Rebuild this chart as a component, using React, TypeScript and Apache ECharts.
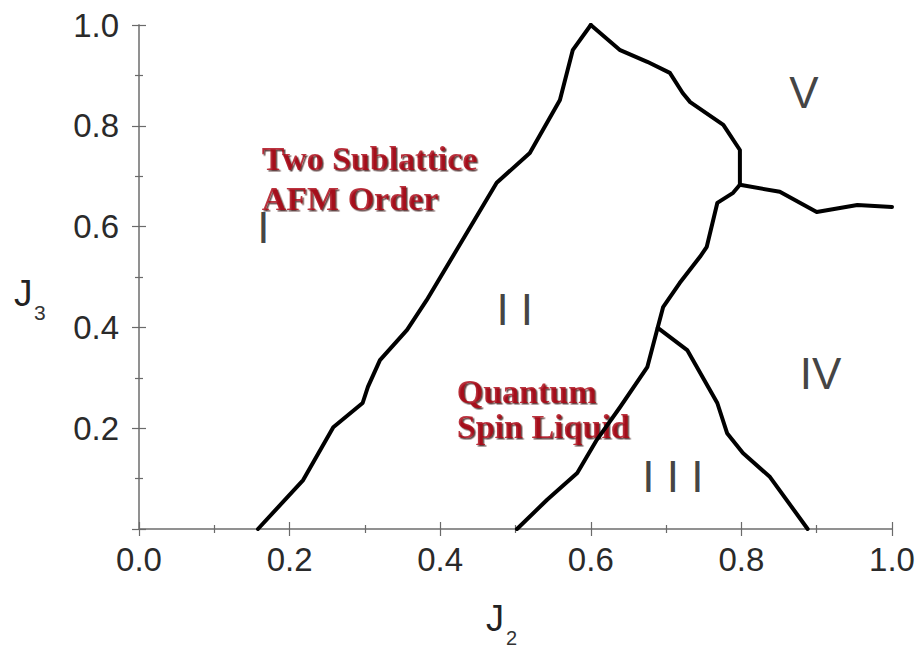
import React, { useEffect, useRef } from "react";
import * as echarts from "echarts";

// Phase boundaries, [J2, J3]
const boundaryI_II: number[][] = [
  [0.158, 0], [0.218, 0.097], [0.258, 0.202], [0.297, 0.25], [0.304, 0.282],
  [0.32, 0.335], [0.356, 0.395], [0.382, 0.454], [0.422, 0.554], [0.475, 0.687],
  [0.519, 0.746], [0.559, 0.851], [0.576, 0.95], [0.6, 1.0],
];
const boundaryII_V: number[][] = [
  [0.6, 1.0], [0.639, 0.95], [0.675, 0.927], [0.705, 0.905], [0.722, 0.865],
  [0.732, 0.847], [0.776, 0.802], [0.798, 0.752], [0.798, 0.683],
];
const boundaryV_IV: number[][] = [
  [0.798, 0.683], [0.851, 0.669], [0.9, 0.629], [0.954, 0.643], [1.0, 0.639],
];
const boundaryII_IV: number[][] = [
  [0.502, 0], [0.542, 0.058], [0.582, 0.111], [0.608, 0.177], [0.639, 0.242],
  [0.675, 0.321], [0.688, 0.395], [0.696, 0.44], [0.718, 0.488], [0.745, 0.54],
  [0.754, 0.56], [0.768, 0.647], [0.789, 0.667], [0.798, 0.683],
];
const boundaryIII_IV: number[][] = [
  [0.689, 0.399], [0.728, 0.355], [0.768, 0.25], [0.781, 0.19], [0.802, 0.151],
  [0.838, 0.103], [0.888, 0],
];

// Phase labels
const phaseLabels: { name: string; value: number[] }[] = [
  { name: "I", value: [0.165, 0.598] },
  { name: "I I", value: [0.499, 0.435] },
  { name: "I I I", value: [0.709, 0.105] },
  { name: "IV", value: [0.905, 0.308] },
  { name: "V", value: [0.883, 0.867] },
];
const regionNotes: { name: string; value: number[] }[] = [
  { name: "Two Sublattice", value: [0.163, 0.736] },
  { name: "AFM Order", value: [0.163, 0.656] },
  { name: "Quantum", value: [0.422, 0.272] },
  { name: "Spin Liquid", value: [0.422, 0.204] },
];

const xTicks = { min: 0, max: 1, interval: 0.2 };
const yTicks = { min: 0, max: 1, interval: 0.2 };

const boundaries = [boundaryI_II, boundaryII_V, boundaryV_IV, boundaryII_IV, boundaryIII_IV];

export default function App() {
  const ref = useRef<HTMLDivElement>(null);
  useEffect(() => {
    if (!ref.current) return;
    const chart = echarts.init(ref.current, null, { renderer: "svg" });
    const axisLine = { show: true, lineStyle: { color: "#8a8a8a", width: 1.5 } };
    const axisTick = { show: true, inside: true, length: 7, lineStyle: { color: "#6a6a6a", width: 1.2 } };
    const minorTick = { show: true, splitNumber: 2, length: 4, lineStyle: { color: "#6a6a6a", width: 1.2 } };
    const labelFont = { fontFamily: "Liberation Sans", fontSize: 33, color: "#2a2a2a" };
    chart.setOption({
      animation: false,
      backgroundColor: "#ffffff",
      grid: { left: 139, top: 25, right: 29, bottom: 119, containLabel: false },
      xAxis: [
        {
          type: "value", position: "bottom", ...xTicks,
          axisLine, axisTick, minorTick, splitLine: { show: false },
          axisLabel: { ...labelFont, margin: 14, formatter: (v: number) => v.toFixed(1) },
        },
        {
          type: "value", position: "top", ...xTicks,
          axisLine, axisTick, minorTick, splitLine: { show: false },
          axisLabel: { show: false },
        },
      ],
      yAxis: [
        {
          type: "value", position: "left", ...yTicks,
          axisLine, axisTick, minorTick, splitLine: { show: false },
          axisLabel: { ...labelFont, margin: 20, formatter: (v: number) => (v === 0 ? "" : v.toFixed(1)) },
        },
        {
          type: "value", position: "right", ...yTicks,
          axisLine, axisTick, minorTick, splitLine: { show: false },
          axisLabel: { show: false },
        },
      ],
      series: [
        ...boundaries.map((d) => ({
          type: "line",
          data: d,
          showSymbol: false,
          symbol: "none",
          lineStyle: { color: "#000", width: 4, cap: "round", join: "round" },
          z: 3,
          silent: true,
        })),
        {
          type: "scatter",
          data: phaseLabels,
          symbolSize: 0,
          z: 4,
          label: {
            show: true,
            position: [0, 0],
            align: "center",
            verticalAlign: "middle",
            formatter: (p: any) => p.name,
            fontFamily: "Liberation Sans",
            fontSize: 44,
            lineHeight: 30,
            color: "#111",
          },
        },
        {
          type: "scatter",
          data: regionNotes,
          symbolSize: 0,
          z: 2,
          label: {
            show: true,
            position: [0, 0],
            align: "left",
            verticalAlign: "middle",
            formatter: (p: any) => p.name,
            fontFamily: "Liberation Serif",
            fontWeight: "bold",
            fontSize: 34,
            lineHeight: 24,
            color: "#aa000d",
            textShadowColor: "rgba(40,0,0,0.9)",
            textShadowOffsetX: 1.5,
            textShadowOffsetY: 1.5,
            textShadowBlur: 0.5,
          },
        },
      ],
      graphic: [
        { type: "text", left: 486, top: 600, style: { text: "J", fontFamily: "Liberation Sans", fontSize: 36, fill: "#222" } },
        { type: "text", left: 506, top: 628, style: { text: "2", fontFamily: "Liberation Sans", fontSize: 20, fill: "#333" } },
        { type: "text", left: 14, top: 275, style: { text: "J", fontFamily: "Liberation Sans", fontSize: 37, fill: "#222" } },
        { type: "text", left: 34, top: 302, style: { text: "3", fontFamily: "Liberation Sans", fontSize: 21, fill: "#333" } },
      ],
    });
    return () => chart.dispose();
  }, []);
  return (
    <div
      ref={ref}
      style={{ position: "fixed", left: 0, top: 0, width: 921, height: 648, background: "#fff" }}
    />
  );
}
